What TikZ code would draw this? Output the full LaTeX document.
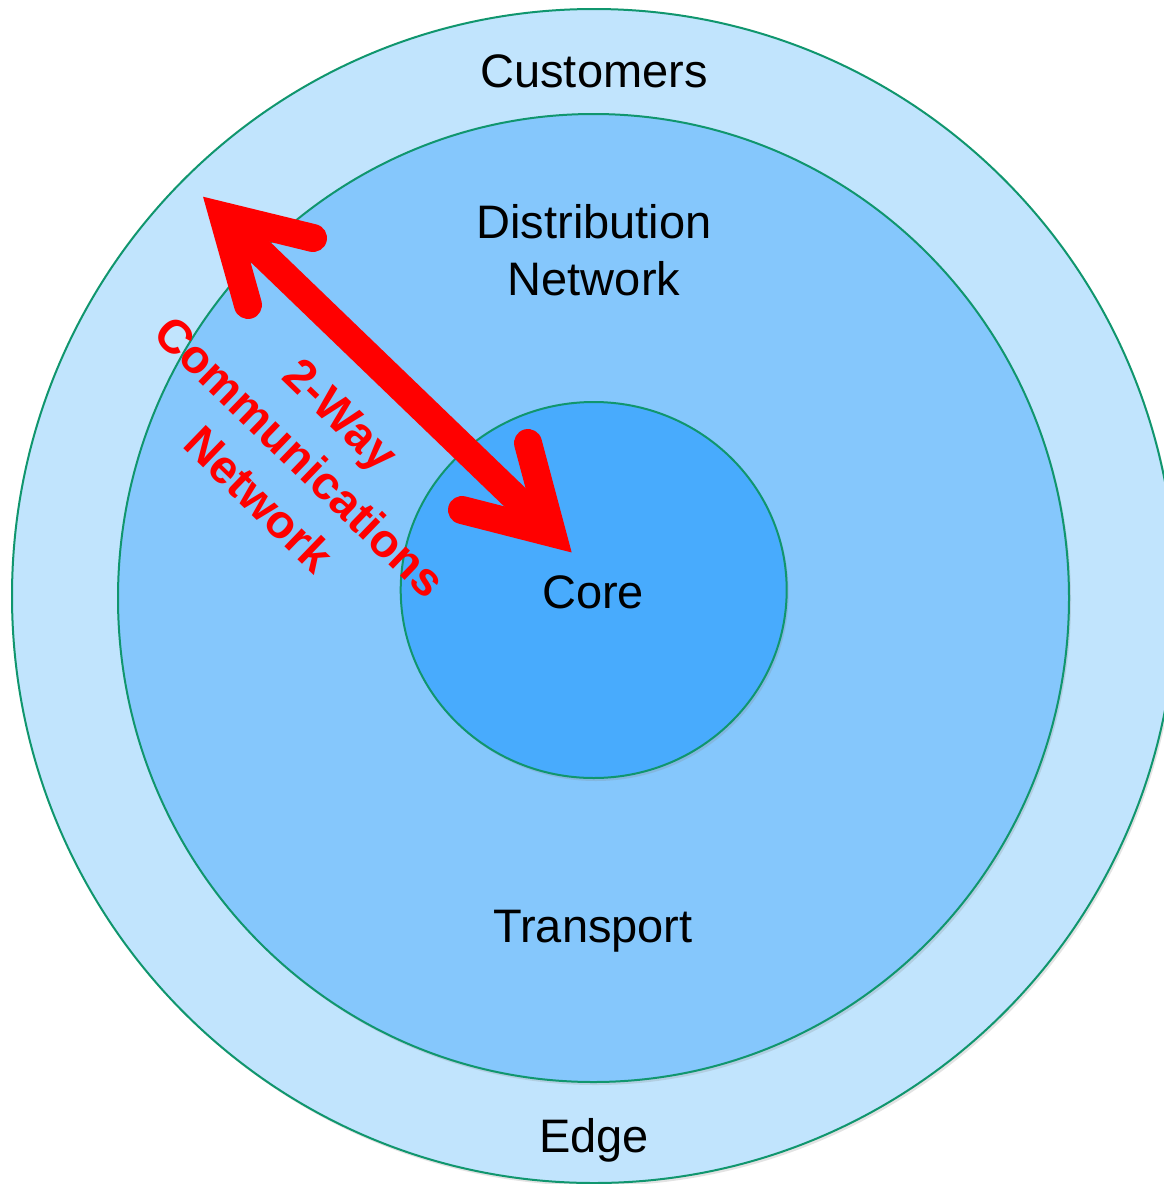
\documentclass[tikz,border=0pt]{standalone}
\usepackage{fontspec}
\setmainfont{Liberation Sans}
\usetikzlibrary{shadows}
\definecolor{ringA}{RGB}{193,228,253}
\definecolor{ringB}{RGB}{133,199,252}
\definecolor{ringC}{RGB}{72,171,253}
\definecolor{rim}{RGB}{16,150,110}
\definecolor{arrowred}{RGB}{255,0,0}
\begin{document}
\begin{tikzpicture}[x=1pt,y=-1pt,
  ring/.style={draw=rim, line width=2pt},
  soft/.style={drop shadow={opacity=0.22, shadow xshift=2pt, shadow yshift=-3pt}},
  lbl/.style={font=\fontsize{47}{57}\selectfont, anchor=base, text=black, inner sep=0pt},
  redlbl/.style={font=\bfseries\fontsize{47}{59}\selectfont, text=arrowred, align=center, rotate=-44, inner sep=0pt},
  shaft/.style={draw=arrowred, line width=28pt, line cap=butt},
  barb/.style={draw=arrowred, line width=28pt, line cap=round, line join=miter}
]
\useasboundingbox (0,0) rectangle (1164,1184);
\fill[white] (0,0) rectangle (1164,1184);
% rings
\path[ring, fill=ringA, soft] (594,596) ellipse [x radius=582, y radius=587];
\path[ring, fill=ringB, soft] (593.5,598) ellipse [x radius=475.5, y radius=484];
\path[ring, fill=ringC, soft] (593.7,590) ellipse [x radius=193, y radius=188];
% labels
\node[lbl] (customers) at (594,87) {Customers};
\node[lbl] (distribution) at (594,238) {Distribution};
\node[lbl] (distnet) at (594,295) {Network};
\node[lbl] (core) at (593,608) {Core};
\node[lbl] (transport) at (593,942) {Transport};
\node[lbl] (edge) at (594,1152) {Edge};
\node[redlbl] (twoway) at (300,457) {2-Way\\Communications\\Network};
% two-way arrow
\coordinate (tipA) at (223,216);
\coordinate (tipB) at (552,533);
\coordinate (armA1) at (313,238);
\coordinate (armA2) at (248,305);
\coordinate (armB1) at (528,443);
\coordinate (armB2) at (462,510);
\draw[shaft] (tipA) -- (tipB);
\draw[barb] (armA1) -- (tipA) -- (armA2);
\draw[barb] (armB1) -- (tipB) -- (armB2);
\end{tikzpicture}
\end{document}
